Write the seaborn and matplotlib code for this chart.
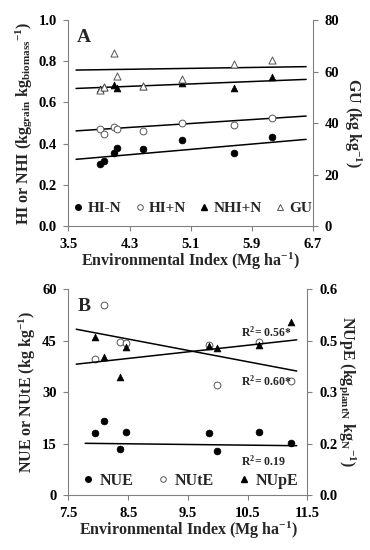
import numpy as np
import seaborn as sns
import matplotlib
matplotlib.use("Agg")
import matplotlib.pyplot as plt
from matplotlib.lines import Line2D

# ---- Panel A data ----
ei_a = [3.91, 3.96, 4.09, 4.13, 4.48, 4.99, 5.66, 6.16]
hi_minus_n = [0.300, 0.316, 0.356, 0.377, 0.375, 0.416, 0.356, 0.431]
hi_plus_n = [0.469, 0.445, 0.481, 0.472, 0.463, 0.501, 0.490, 0.526]
nhi_plus_n = [0.667, 0.673, 0.684, 0.672, 0.678, 0.693, 0.668, 0.722]
gu = [52.8, 54.1, 67.1, 58.3, 54.4, 57.0, 62.8, 64.5]

# linear fits (slope, intercept) as drawn in the figure
fit_hi_minus = (0.0322, 0.208)
fit_hi_plus = (0.0239, 0.376)
fit_nhi = (0.0146, 0.6155)
fit_gu = (0.44, 59.0)
fit_range_a = (3.6, 6.61)

# ---- Panel B data ----
ei_b = [7.95, 8.09, 8.36, 8.46, 9.86, 9.99, 10.69, 11.22]
nue = [18.0, 21.6, 13.4, 18.4, 18.1, 12.9, 18.3, 15.2]
nute = [39.7, 55.3, 44.5, 44.2, 43.6, 32.0, 44.7, 33.2]
nupe = [0.460, 0.401, 0.345, 0.432, 0.435, 0.429, 0.437, 0.503]

fit_nue = (-0.197, 16.59)
fit_nute = (-3.30, 73.47)
fit_nupe = (0.0192, 0.2346)
fit_range_b = (7.63, 11.32)
fit_range_nue = (7.78, 11.32)

r2_labels = ["R$^{2}$= 0.56*", "R$^{2}$= 0.60*", "R$^{2}$= 0.19"]

sns.set_style("ticks")
plt.rcParams["font.family"] = ["Liberation Serif", "DejaVu Serif"]
plt.rcParams["font.weight"] = "bold"
plt.rcParams["axes.labelweight"] = "bold"
plt.rcParams["mathtext.default"] = "regular"
plt.rcParams["font.size"] = 10

SPINE = "#808080"
OPEN = "#555555"
TICK_FS = 10.5
LABEL_FS = 11.5

fig = plt.figure(figsize=(3.7, 5.5), dpi=100)
ax_a = fig.add_axes([0.185, 0.589, 0.661, 0.3745])
ax_b = fig.add_axes([0.185, 0.100, 0.646, 0.3745])


def style_axes(ax, ax2):
    for a in (ax, ax2):
        a.spines["top"].set_visible(False)
        for s in ("left", "right", "bottom"):
            a.spines[s].set_color(SPINE)
            a.spines[s].set_linewidth(0.8)
        a.tick_params(colors=SPINE, length=3.5, width=0.8, labelsize=TICK_FS, pad=5)
        for lab in a.get_xticklabels() + a.get_yticklabels():
            lab.set_color("black")
            lab.set_fontweight("bold")
    ax.spines["right"].set_visible(False)
    ax2.spines["left"].set_visible(False)
    ax2.spines["bottom"].set_visible(False)


def draw_fit(ax, fit, xr):
    xs = np.array(xr)
    sns.lineplot(x=xs, y=fit[0] * xs + fit[1], ax=ax, color="black", lw=1.1)


def scatter(ax, x, y, marker, filled, size):
    if filled:
        sns.scatterplot(x=x, y=y, ax=ax, marker=marker, s=size,
                        color="black", edgecolor="black", linewidth=0.5, zorder=3)
    else:
        sns.scatterplot(x=x, y=y, ax=ax, marker=marker, s=size,
                        color="white", edgecolor=OPEN, linewidth=0.7, zorder=3)


# ---------------- Panel A ----------------
ax_a2 = ax_a.twinx()
ax_a2.set_position(ax_a.get_position())
scatter(ax_a, ei_a, hi_minus_n, "o", True, 24)
scatter(ax_a, ei_a, hi_plus_n, "o", False, 24)
scatter(ax_a, ei_a, nhi_plus_n, "^", True, 24)
scatter(ax_a2, ei_a, gu, "^", False, 26)
draw_fit(ax_a, fit_hi_minus, fit_range_a)
draw_fit(ax_a, fit_hi_plus, fit_range_a)
draw_fit(ax_a, fit_nhi, fit_range_a)
draw_fit(ax_a2, fit_gu, fit_range_a)

ax_a.set_xlim(3.5, 6.7)
ax_a.set_ylim(0, 1.0)
ax_a2.set_ylim(0, 80)
ax_a.set_xticks([3.5, 4.3, 5.1, 5.9, 6.7])
ax_a.set_xticklabels(["3.5", "4.3", "5.1", "5.9", "6.7"])
ax_a.set_yticks([0, 0.2, 0.4, 0.6, 0.8, 1.0])
ax_a.set_yticklabels(["0.0", "0.2", "0.4", "0.6", "0.8", "1.0"])
ax_a2.set_yticks([0, 20, 40, 60, 80])
ax_a2.set_yticklabels(["0", "20", "40", "60", "80"])
ax_a.set_xlabel("Environmental Index (Mg ha$^{-1}$)", fontsize=LABEL_FS, labelpad=0)
ax_a.set_ylabel("HI or NHI (kg$_{grain}$ kg$_{biomass}$$^{-1}$)", fontsize=LABEL_FS, labelpad=3)
ax_a2.set_ylabel("GU (kg kg$^{-1}$)", fontsize=LABEL_FS, rotation=270, labelpad=17)
style_axes(ax_a, ax_a2)
ax_a.text(0.035, 0.915, "A", transform=ax_a.transAxes, fontsize=14,
          fontweight="bold", va="center")

h_a = [Line2D([], [], ls="", marker="o", color="black", ms=4),
       Line2D([], [], ls="", marker="o", mfc="white", mec=OPEN, ms=4, mew=0.7),
       Line2D([], [], ls="", marker="^", color="black", ms=4),
       Line2D([], [], ls="", marker="^", mfc="white", mec=OPEN, ms=4, mew=0.7)]
ax_a.legend(h_a, ["HI-N", "HI+N", "NHI+N", "GU"], ncol=4, frameon=False,
            loc="center", bbox_to_anchor=(0.5, 0.085), fontsize=11,
            handletextpad=0.0, columnspacing=0.6, handlelength=1.2,
            borderpad=0.1)

# ---------------- Panel B ----------------
ax_b2 = ax_b.twinx()
ax_b2.set_position(ax_b.get_position())
scatter(ax_b, ei_b, nue, "o", True, 24)
scatter(ax_b, ei_b, nute, "o", False, 24)
scatter(ax_b2, ei_b, nupe, "^", True, 24)
draw_fit(ax_b, fit_nue, fit_range_nue)
draw_fit(ax_b, fit_nute, fit_range_b)
draw_fit(ax_b2, fit_nupe, fit_range_b)

ax_b.set_xlim(7.5, 11.5)
ax_b.set_ylim(0, 60)
ax_b2.set_ylim(0, 0.6)
ax_b.set_xticks([7.5, 8.5, 9.5, 10.5, 11.5])
ax_b.set_xticklabels(["7.5", "8.5", "9.5", "10.5", "11.5"])
ax_b.set_yticks([0, 15, 30, 45, 60])
ax_b.set_yticklabels(["0", "15", "30", "45", "60"])
ax_b2.set_yticks([0, 0.15, 0.30, 0.45, 0.60])
ax_b2.set_yticklabels(["0.0", "0.2", "0.3", "0.5", "0.6"])
ax_b.set_xlabel("Environmental Index (Mg ha$^{-1}$)", fontsize=LABEL_FS, labelpad=0)
ax_b.set_ylabel("NUE or NUtE (kg kg$^{-1}$)", fontsize=LABEL_FS, labelpad=3)
ax_b2.set_ylabel("NUpE (kg$_{plantN}$ kg$_{N}$$^{-1}$)", fontsize=LABEL_FS,
                 rotation=270, labelpad=15)
style_axes(ax_b, ax_b2)
ax_b.text(0.04, 0.915, "B", transform=ax_b.transAxes, fontsize=14,
          fontweight="bold", va="center")

ax_b.text(10.39, 47.3, r2_labels[0], fontsize=8.5, fontweight="bold", va="center")
ax_b.text(10.39, 33.2, r2_labels[1], fontsize=8.5, fontweight="bold", va="center")
ax_b.text(10.39, 9.9, r2_labels[2], fontsize=8.5, fontweight="bold", va="center")

h_b = [Line2D([], [], ls="", marker="o", color="black", ms=4),
       Line2D([], [], ls="", marker="o", mfc="white", mec=OPEN, ms=4, mew=0.7),
       Line2D([], [], ls="", marker="^", color="black", ms=4)]
ax_b.legend(h_b, ["NUE", "NUtE", "NUpE"], ncol=3, frameon=False,
            loc="center", bbox_to_anchor=(0.5, 0.068), fontsize=11.5,
            handletextpad=0.1, columnspacing=1.2, handlelength=1.3,
            borderpad=0.1)

fig.savefig("out.png", dpi=100, facecolor="white")
